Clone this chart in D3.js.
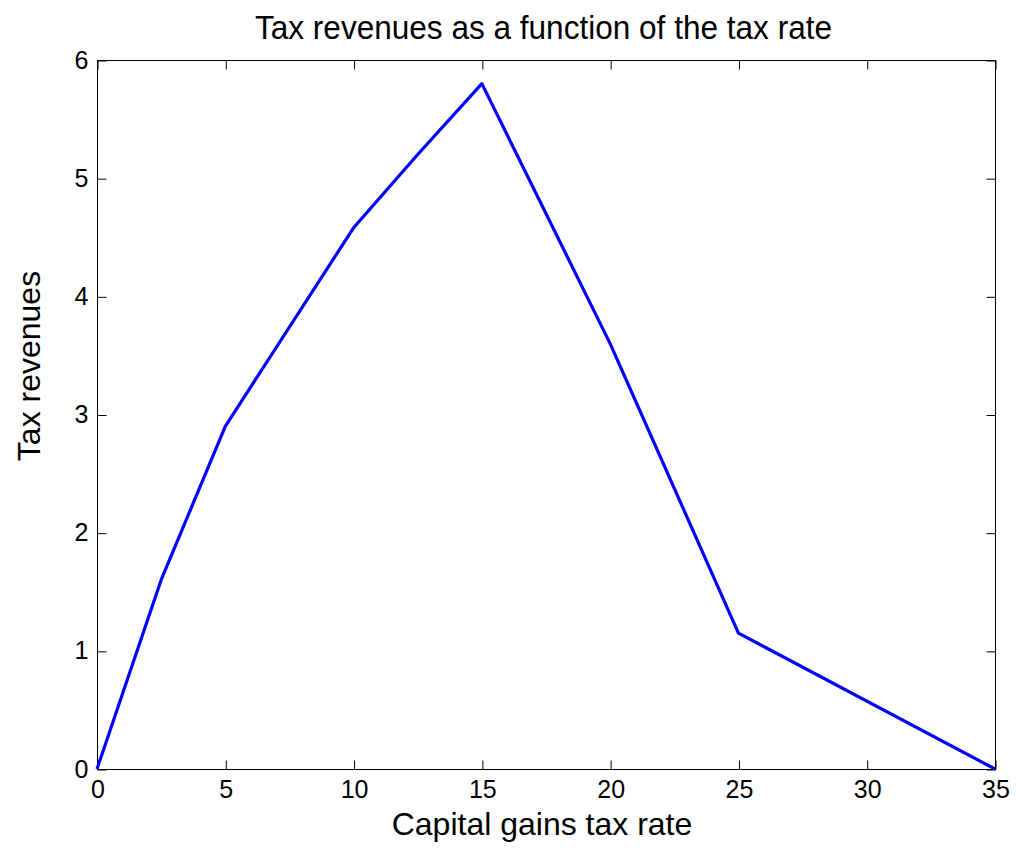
<!DOCTYPE html>
<html>
<head>
<meta charset="utf-8">
<script src="https://cdn.jsdelivr.net/npm/d3@7"></script>
<style>
  html, body { margin: 0; padding: 0; background: #fff; }
  text { font-family: "Liberation Sans", Arial, sans-serif; fill: #000; }
</style>
</head>
<body>
<svg id="chart" width="1016" height="855"></svg>
<script>
const taxRate = [0, 2.5, 5, 10, 12.5, 15, 20, 25, 35];
const revenues = [0, 1.6, 2.9, 4.58, 5.2, 5.8, 3.6, 1.15, 0];
const xTicks = [0, 5, 10, 15, 20, 25, 30, 35];
const yTicks = [0, 1, 2, 3, 4, 5, 6];
const titleText = "Tax revenues as a function of the tax rate";
const xLabelText = "Capital gains tax rate";
const yLabelText = "Tax revenues";

const svg = d3.select("#chart");
const pLeft = 97, pRight = 995, pTop = 60, pBottom = 769;
const x = d3.scaleLinear().domain([0, 35]).range([pLeft, pRight]);
const y = d3.scaleLinear().domain([0, 6]).range([pBottom, pTop]);
const tickLen = 9;

// box
svg.append("rect").attr("x", pLeft + 0.5).attr("y", pTop + 0.5)
  .attr("width", pRight - pLeft).attr("height", pBottom - pTop)
  .attr("fill", "none").attr("stroke", "#000").attr("stroke-width", 1);

// axes (ticks inward)
const fmt = d3.format("d");
const gx = svg.append("g").attr("transform", `translate(0.5,${pBottom + 0.5})`)
  .call(d3.axisBottom(x).tickValues(xTicks).tickFormat(fmt).tickSizeInner(-tickLen).tickSizeOuter(0).tickPadding(11));
const gxTop = svg.append("g").attr("transform", `translate(0.5,${pTop + 0.5})`)
  .call(d3.axisTop(x).tickValues(xTicks).tickSizeInner(-tickLen).tickSizeOuter(0).tickFormat(""));
const gy = svg.append("g").attr("transform", `translate(${pLeft + 0.5},0.5)`)
  .call(d3.axisLeft(y).tickValues(yTicks).tickFormat(fmt).tickSizeInner(-tickLen).tickSizeOuter(0).tickPadding(9));
const gyR = svg.append("g").attr("transform", `translate(${pRight + 0.5},0.5)`)
  .call(d3.axisRight(y).tickValues(yTicks).tickSizeInner(-tickLen).tickSizeOuter(0).tickFormat(""));
[gx, gxTop, gy, gyR].forEach(g => {
  g.attr("font-size", null).attr("font-family", null);
  g.select(".domain").remove();
  g.selectAll(".tick line").attr("stroke", "#000");
  g.selectAll("text").style("font-size", "25px").style("font-family", "'Liberation Sans', Arial, sans-serif").attr("fill", "#000");
});
gx.selectAll("text").attr("dy", "0.71em");
gy.selectAll("text").attr("dy", "0.3em");

// line
svg.append("path")
  .datum(taxRate.map((d, i) => [d, revenues[i]]))
  .attr("fill", "none").attr("stroke", "#0000ff").attr("stroke-width", 3.2)
  .attr("stroke-linejoin", "round")
  .attr("d", d3.line().x(d => x(d[0])).y(d => y(d[1])));

// title and labels
svg.append("text").attr("x", 543.5).attr("y", 38.5).attr("text-anchor", "middle")
  .attr("textLength", 577).attr("lengthAdjust", "spacingAndGlyphs")
  .style("font-size", "33px").text(titleText);
svg.append("text").attr("x", 542).attr("y", 835).attr("text-anchor", "middle")
  .style("font-size", "32px").text(xLabelText);
svg.append("text").attr("transform", "translate(40,366) rotate(-90)").attr("text-anchor", "middle")
  .style("font-size", "32px").text(yLabelText);
</script>
</body>
</html>
